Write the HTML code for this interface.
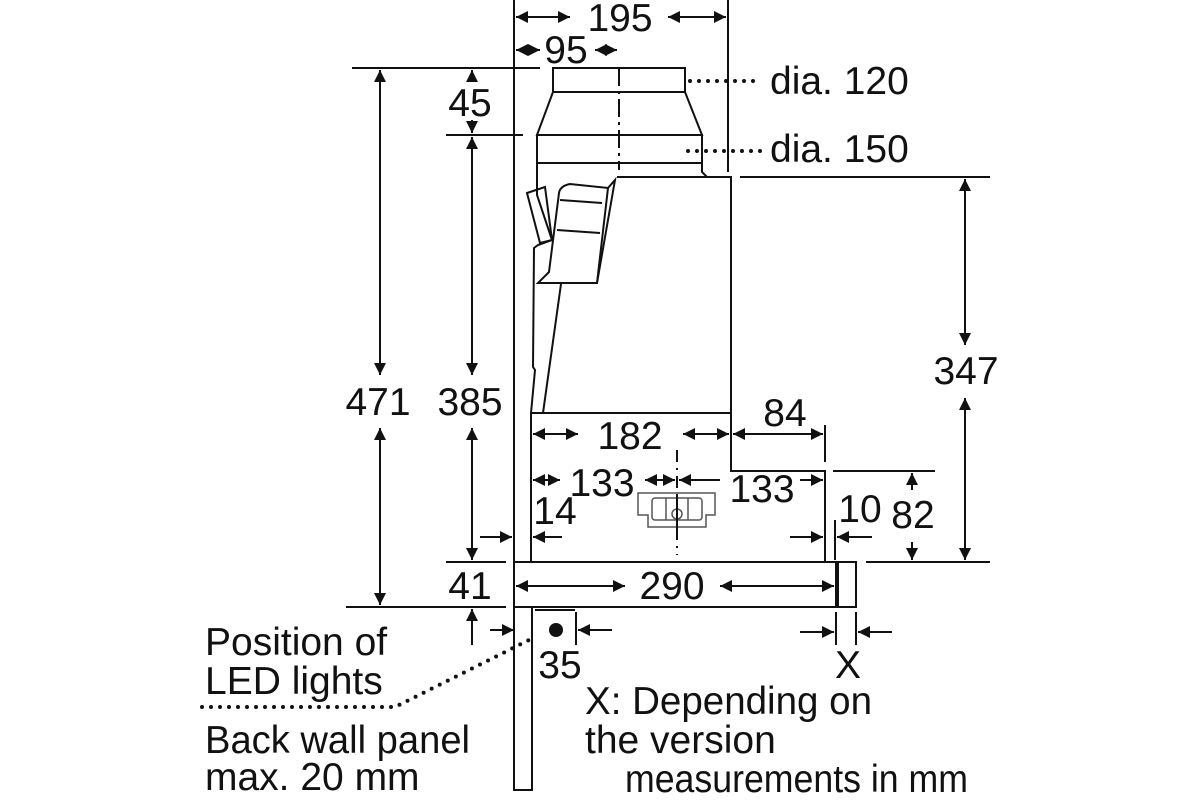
<!DOCTYPE html>
<html><head><meta charset="utf-8"><style>
html,body{margin:0;padding:0;background:#fff;width:1200px;height:800px;overflow:hidden}
text{font-family:"Liberation Sans",Arial,sans-serif;fill:#111}
</style></head><body>
<svg width="1200" height="800" viewBox="0 0 1200 800" xmlns="http://www.w3.org/2000/svg">
<defs>
<marker id="b" viewBox="0 0 10 10" refX="10" refY="5" markerWidth="16" markerHeight="12" markerUnits="userSpaceOnUse" orient="auto-start-reverse"><path d="M0,0 L10,5 L0,10 z" fill="#111"/></marker>
</defs>
<g stroke="#111" stroke-width="2" fill="none">
<line x1="514" y1="0" x2="514" y2="562"/>
<line x1="728" y1="0" x2="728" y2="172"/>
<rect x="514" y="607" width="18" height="183"/>
<rect x="553" y="68" width="132" height="24"/>
<path d="M553,92 L537,135 L702,135 L685,92"/>
<rect x="537" y="135" width="165" height="28"/>
<path d="M702,163 L702,172 L707,177"/>
<path d="M617,177 L731,177 L731,413 L531,413"/>
<path d="M537,163 L537,195 L552,240 L538,245 L534,248 L533,367 L535,370 L531,413"/>
<path d="M527,193 L545,187 L552,240 L540,243 Z"/>
<path d="M559,193 Q560,186 570,184 L608,188 L615,180 L597,283 L538,283 L549,272 Z"/>
<path d="M608,188 L597,283"/>
<path d="M560,200 L602,203 M557,230 L600,233"/>
<path d="M561,284 L543,413"/>
<path d="M531,413 L531,562 L825,562 L825,471 L731,471 L731,413"/>
<rect x="514" y="562" width="342" height="45"/>
<line x1="837" y1="562" x2="837" y2="607" stroke-width="4"/>
<line x1="619" y1="68" x2="619" y2="170" stroke-dasharray="18,5,3,5"/>
<line x1="677" y1="450" x2="677" y2="555" stroke-dasharray="12,6,2,6"/>
</g>
<g stroke="#555" stroke-width="1.5" fill="none">
<path d="M638,493 L715,493 L715,515 L706,515 L706,527 L648,527 L648,515 L638,515 Z"/>
<rect x="652" y="498" width="50" height="22" rx="3"/>
<line x1="666" y1="498" x2="666" y2="520"/><line x1="688" y1="498" x2="688" y2="520"/>
<circle cx="677" cy="514" r="5"/>
</g>
<line x1="677" y1="495" x2="677" y2="540" stroke="#111" stroke-width="2"/>
<g stroke="#111" stroke-width="4" stroke-linecap="round" stroke-dasharray="0,9" fill="none">
<line x1="690" y1="81" x2="762" y2="81"/>
<line x1="688" y1="151" x2="762" y2="151"/>
<path d="M202,707 L395,707 L535,637"/>
</g>
<g stroke="#111" stroke-width="2" fill="none">
<line x1="352" y1="68" x2="540" y2="68"/>
<line x1="446" y1="135" x2="523" y2="135"/>
<line x1="446" y1="562" x2="506" y2="562"/>
<line x1="346" y1="607" x2="506" y2="607"/>
<line x1="740" y1="177" x2="990" y2="177"/>
<line x1="866" y1="562" x2="990" y2="562"/>
<line x1="833" y1="471" x2="935" y2="471"/>
<line x1="825" y1="425" x2="825" y2="462"/>
<line x1="835" y1="520" x2="835" y2="560"/>
<line x1="576" y1="612" x2="576" y2="645"/>
<line x1="836" y1="612" x2="836" y2="645"/>
<line x1="856" y1="612" x2="856" y2="645"/>
<line x1="535" y1="610" x2="575" y2="610"/>
</g>
<g stroke="#111" stroke-width="2" fill="none" marker-end="url(#b)" marker-start="url(#b)">
<line x1="516" y1="17" x2="570" y2="17"/><line x1="668" y1="17" x2="726" y2="17"/>
<line x1="516" y1="50" x2="540" y2="50"/><line x1="595" y1="50" x2="617" y2="50"/>
<line x1="533" y1="434" x2="578" y2="434"/><line x1="683" y1="434" x2="729" y2="434"/>
<line x1="733" y1="434" x2="823" y2="434"/>
<line x1="533" y1="480" x2="560" y2="480"/><line x1="645" y1="480" x2="675" y2="480"/>
<line x1="516" y1="586" x2="625" y2="586"/><line x1="720" y1="586" x2="834" y2="586"/>
<line x1="380" y1="70" x2="380" y2="375"/><line x1="380" y1="428" x2="380" y2="605"/>
<line x1="472" y1="137" x2="472" y2="375"/><line x1="472" y1="428" x2="472" y2="560"/>
<line x1="965" y1="179" x2="965" y2="345"/><line x1="965" y1="398" x2="965" y2="560"/>
</g>
<g stroke="#111" stroke-width="2" fill="none" marker-end="url(#b)">
<line x1="720" y1="480" x2="679" y2="480"/><line x1="800" y1="480" x2="823" y2="480"/>
<line x1="472" y1="82" x2="472" y2="70"/><line x1="472" y1="120" x2="472" y2="133"/>
<line x1="912" y1="490" x2="912" y2="473"/><line x1="912" y1="542" x2="912" y2="560"/>
<line x1="472" y1="645" x2="472" y2="609"/>
<line x1="480" y1="537" x2="512" y2="537"/><line x1="562" y1="537" x2="533" y2="537"/>
<line x1="790" y1="537" x2="823" y2="537"/><line x1="872" y1="537" x2="837" y2="537"/>
<line x1="490" y1="630" x2="514" y2="630"/><line x1="612" y1="630" x2="578" y2="630"/>
<line x1="800" y1="632" x2="834" y2="632"/><line x1="892" y1="632" x2="858" y2="632"/>
</g>
<circle cx="556" cy="630" r="7" fill="#111"/>
<g font-size="39">
<text x="620" y="31" text-anchor="middle">195</text>
<text x="566" y="63" text-anchor="middle">95</text>
<text x="770" y="94">dia. 120</text>
<text x="770" y="162">dia. 150</text>
<text x="470" y="116" text-anchor="middle">45</text>
<text x="378" y="415" text-anchor="middle">471</text>
<text x="470" y="415" text-anchor="middle">385</text>
<text x="966" y="384" text-anchor="middle">347</text>
<text x="630" y="449" text-anchor="middle">182</text>
<text x="785" y="426" text-anchor="middle">84</text>
<text x="602" y="496" text-anchor="middle">133</text>
<text x="762" y="502" text-anchor="middle">133</text>
<text x="555" y="524" text-anchor="middle">14</text>
<text x="860" y="522" text-anchor="middle">10</text>
<text x="913" y="528" text-anchor="middle">82</text>
<text x="470" y="599" text-anchor="middle">41</text>
<text x="672" y="599" text-anchor="middle">290</text>
<text x="560" y="678" text-anchor="middle">35</text>
<text x="848" y="678" text-anchor="middle">X</text>
<text x="205" y="655">Position of</text>
<text x="205" y="694">LED lights</text>
<text x="205" y="753" textLength="265" lengthAdjust="spacingAndGlyphs">Back wall panel</text>
<text x="205" y="790">max. 20 mm</text>
<text x="585" y="714" textLength="287" lengthAdjust="spacingAndGlyphs">X: Depending on</text>
<text x="585" y="753">the version</text>
<text x="625" y="792" textLength="343" lengthAdjust="spacingAndGlyphs">measurements in mm</text>
</g>
</svg>
</body></html>
